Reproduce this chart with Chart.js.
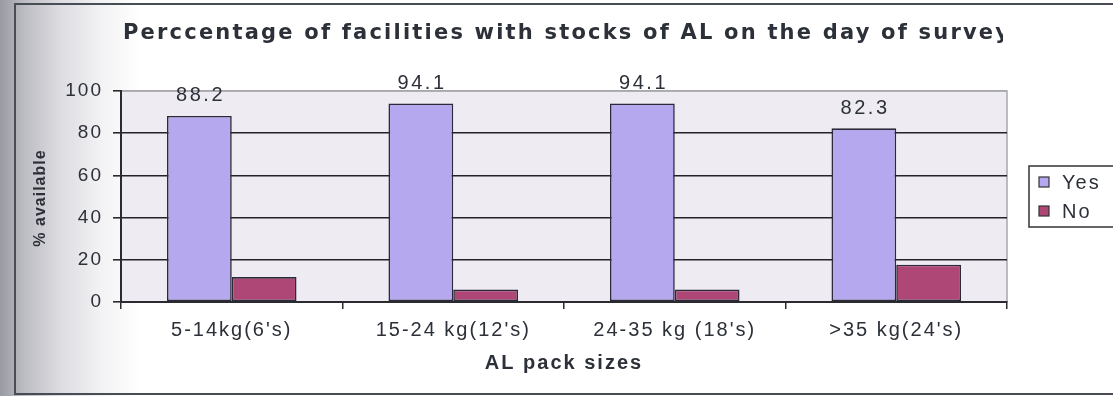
<!DOCTYPE html>
<html>
<head>
<meta charset="utf-8">
<script src="https://cdn.jsdelivr.net/npm/chart.js@4"></script>
<style>
  html, body { margin: 0; padding: 0; }
  body {
    width: 1113px; height: 396px; overflow: hidden;
    background: linear-gradient(to right, #9a9aa2 0px, #bdbdc4 25px, #dcdce1 60px, #f2f2f4 100px, #ffffff 140px);
  }
  #wrap { position: relative; width: 1113px; height: 396px; }
</style>
</head>
<body>
<div id="wrap"><canvas id="chart" width="1113" height="396"></canvas></div>
<script>
// ---- data ----
const categories = ["5-14kg(6's)", "15-24 kg(12's)", "24-35 kg (18's)", ">35 kg(24's)"];
const yesValues = [88.2, 94.1, 94.1, 82.3];
const noValues = [11.8, 5.9, 5.9, 17.7];
const yTicks = [0, 20, 40, 60, 80, 100];

const titleText = "Perccentage of facilities with stocks of AL on the day of survey";
const xTitle = "AL pack sizes";
const yTitle = "% available";

const FONT = "'Liberation Sans', Arial, sans-serif";
const TEXT = "#2c3038";

// frame, plot background, title and the wide-spaced text of the scanned chart
const framePlugin = {
  id: "frame",
  beforeDraw(chart) {
    const ctx = chart.ctx;
    const a = chart.chartArea;
    ctx.save();
    ctx.fillStyle = "#eeecf2";
    ctx.fillRect(a.left, a.top, a.right - a.left, a.bottom - a.top);
    ctx.strokeStyle = "#a8a8ac";
    ctx.lineWidth = 1.5;
    ctx.strokeRect(a.left, a.top, a.right - a.left, a.bottom - a.top);
    // outer border
    ctx.strokeStyle = "#474c55";
    ctx.lineWidth = 2;
    ctx.beginPath();
    ctx.moveTo(1113, 4);
    ctx.lineTo(15, 4);
    ctx.lineTo(15, 394);
    ctx.lineTo(1113, 394);
    ctx.stroke();
    // y title
    ctx.save();
    ctx.translate(41, 198);
    ctx.rotate(-Math.PI / 2);
    ctx.font = "bold 16px " + FONT;
    ctx.letterSpacing = "1px";
    ctx.fillStyle = TEXT;
    ctx.textAlign = "center";
    ctx.textBaseline = "middle";
    ctx.fillText(yTitle, 0, 0);
    ctx.restore();
    // title, clipped like the original
    ctx.beginPath();
    ctx.rect(0, 0, 1003, 60);
    ctx.clip();
    ctx.fillStyle = TEXT;
    ctx.font = "bold 21px 'DejaVu Sans', Verdana, sans-serif";
    ctx.letterSpacing = "2.2px";
    ctx.textBaseline = "alphabetic";
    ctx.textAlign = "left";
    ctx.fillText(titleText, 123, 39);
    ctx.restore();
    // scale texts are drawn by Chart.js with this spacing
    ctx.letterSpacing = "2px";
  },
  afterDatasetsDraw(chart) {
    const ctx = chart.ctx;
    ctx.save();
    ctx.letterSpacing = "2.5px";
    // value labels on the Yes bars
    ctx.font = "20px " + FONT;
    ctx.fillStyle = TEXT;
    ctx.textAlign = "center";
    ctx.textBaseline = "middle";
    chart.getDatasetMeta(0).data.forEach((bar, i) => {
      ctx.fillText(yesValues[i].toFixed(1), bar.x + 1.2, bar.y - 20);
    });
    // legend box
    ctx.fillStyle = "#fff";
    ctx.fillRect(1029, 166, 90, 61);
    ctx.strokeStyle = "#333";
    ctx.lineWidth = 1.5;
    ctx.strokeRect(1029, 166, 90, 61);
    ctx.font = "20px " + FONT;
    ctx.letterSpacing = "2px";
    ctx.textAlign = "left";
    chart.data.datasets.forEach((ds, i) => {
      const cy = 182 + i * 29;
      ctx.fillStyle = ds.backgroundColor;
      ctx.fillRect(1039, cy - 5, 10, 10);
      ctx.strokeStyle = "#333";
      ctx.lineWidth = 1.2;
      ctx.strokeRect(1039, cy - 5, 10, 10);
      ctx.fillStyle = TEXT;
      ctx.fillText(ds.label, 1062, cy + 1);
    });
    ctx.restore();
  }
};

new Chart(document.getElementById("chart"), {
  type: "bar",
  data: {
    labels: categories,
    datasets: [
      {
        label: "Yes",
        data: yesValues,
        backgroundColor: "#b6a8ee",
        borderColor: "#2a2a38",
        borderWidth: 1.6,
        borderSkipped: false,
        categoryPercentage: 0.585,
        barPercentage: 1.0
      },
      {
        label: "No",
        data: noValues,
        backgroundColor: "#ae4676",
        borderColor: "#2a2a38",
        borderWidth: 1.6,
        borderSkipped: false,
        categoryPercentage: 0.585,
        barPercentage: 1.0
      }
    ]
  },
  options: {
    responsive: false,
    animation: false,
    layout: { padding: { left: 0, right: 106, top: 91, bottom: 0 } },
    plugins: {
      legend: { display: false },
      title: { display: false },
      tooltip: { enabled: false }
    },
    scales: {
      x: {
        afterFit: (s) => { s.height = 94; },
        grid: {
          display: true,
          drawOnChartArea: false,
          drawTicks: true,
          tickLength: 7,
          tickColor: "#2a2a30",
          lineWidth: 1.5,
          offset: true
        },
        border: { display: true, color: "#2a2a30", width: 2 },
        ticks: {
          color: TEXT,
          padding: 9,
          maxRotation: 0,
          autoSkip: false,
          font: { size: 20, family: FONT }
        },
        title: {
          display: true,
          text: xTitle,
          color: TEXT,
          font: { size: 20, weight: "bold", family: FONT },
          padding: { top: 0, bottom: 21 }
        }
      },
      y: {
        min: 0,
        max: 100,
        afterFit: (s) => { s.width = 121; },
        afterBuildTicks: (s) => { s.ticks = yTicks.map(v => ({ value: v })); },
        grid: {
          color: (c) => c.tick && c.tick.value === 100 ? "#a8a8ac" : "#222228",
          lineWidth: 1.6,
          tickLength: 8,
          tickColor: "#2a2a30"
        },
        border: { display: true, color: "#2a2a30", width: 2 },
        ticks: {
          color: TEXT,
          padding: 10,
          font: { size: 19, family: FONT }
        },
        title: { display: false }
      }
    }
  },
  plugins: [framePlugin]
});
</script>
</body>
</html>
